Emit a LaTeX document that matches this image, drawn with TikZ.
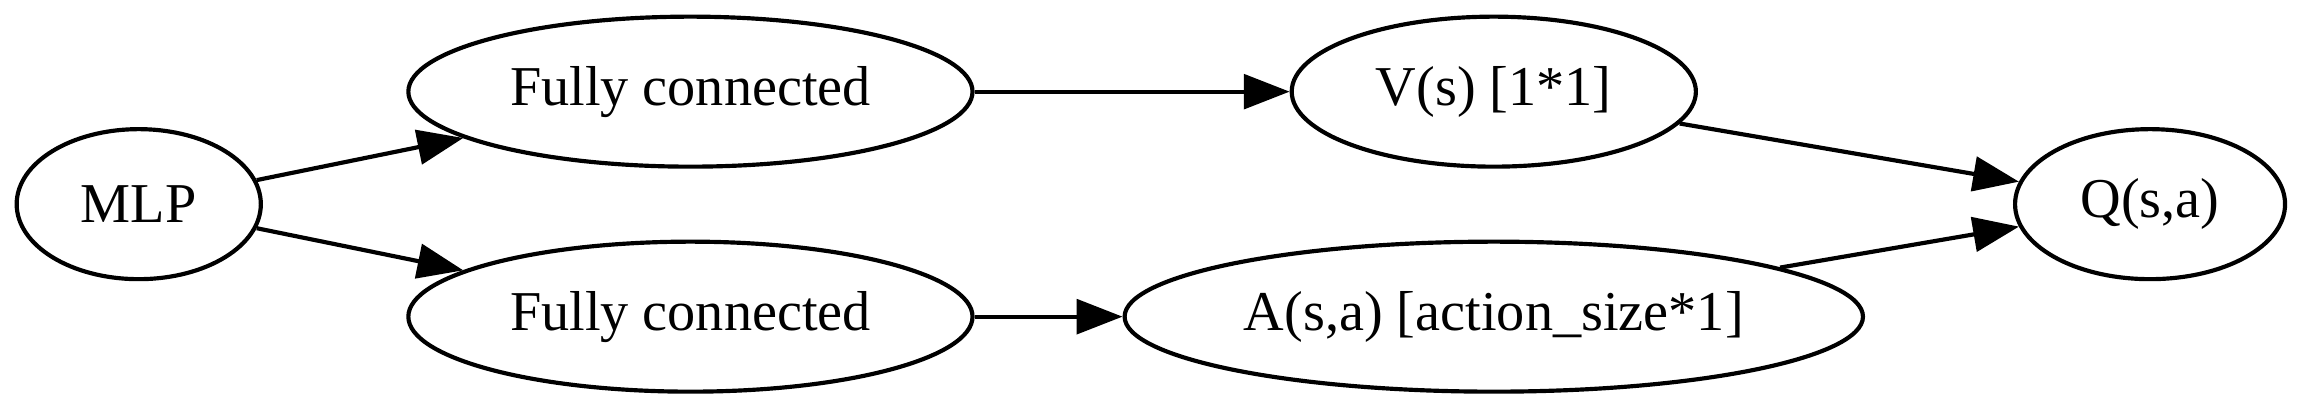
\documentclass[tikz,border=0pt]{standalone}
\usepackage{fontspec}
\setmainfont{Liberation Serif}
\usetikzlibrary{shapes.geometric,arrows.meta,positioning}

\begin{document}
\begin{tikzpicture}[
  x=1pt, y=1pt,
  font=\fontsize{13.5pt}{16pt}\selectfont,
  >={Triangle[length=11pt, width=8.3pt]},
  layer/.style={ellipse, draw=black, line width=1pt, inner sep=0pt,
                minimum height=36pt, align=center},
  link/.style={->, line width=1pt, draw=black},
]
\useasboundingbox (0,0) rectangle (552.7,98);

\node[layer, minimum width=58.6pt]  (mlp) at (33.3,49)  {MLP};
\node[layer, minimum width=135.4pt] (fcv) at (165.7,76) {Fully connected};
\node[layer, minimum width=135.4pt] (fca) at (165.7,22) {Fully connected};
\node[layer, minimum width=97pt]    (val) at (358.5,76) {V(s) [1*1]};
\node[layer, minimum width=177.2pt] (adv) at (358.5,22) {A(s,a) [action\_size*1]};
\node[layer, minimum width=64.8pt]  (q)   at (516,49)   {Q(s,a)};

\draw[link] (mlp) -- (fcv);
\draw[link] (mlp) -- (fca);
\draw[link] (fcv) -- (val);
\draw[link] (fca) -- (adv);
\draw[link] (val) -- (q);
\draw[link] (adv) -- (q);

\end{tikzpicture}
\end{document}
